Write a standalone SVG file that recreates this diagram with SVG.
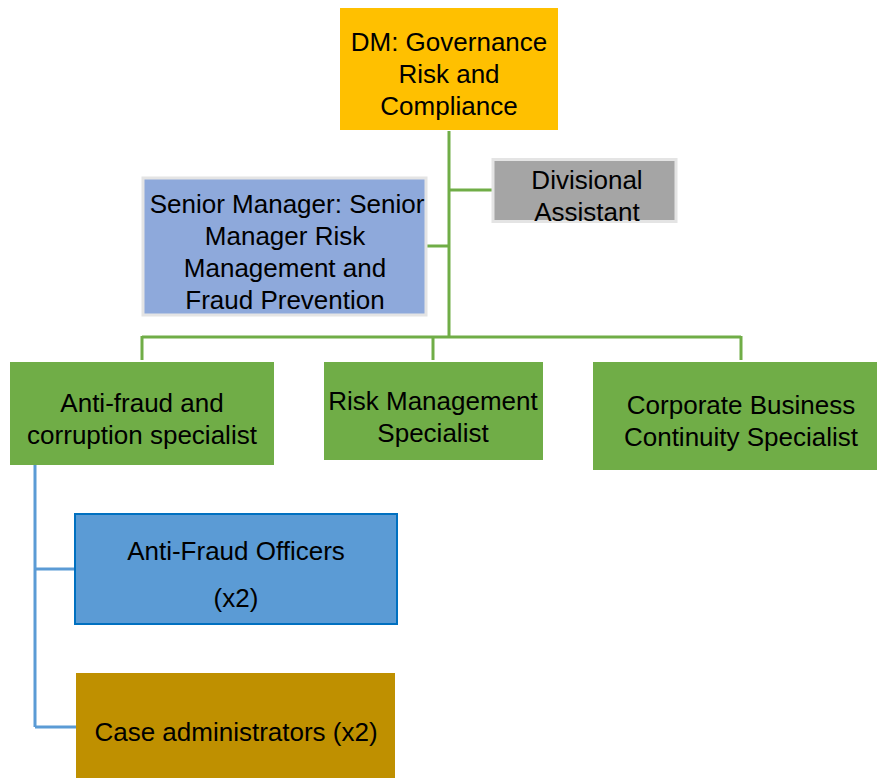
<svg xmlns="http://www.w3.org/2000/svg" width="877" height="778" viewBox="0 0 877 778">
<style>
text{font-family:"Liberation Sans",Arial,sans-serif;font-size:26px;fill:#000;text-anchor:middle}
.g{stroke:#70AD47;stroke-width:3;fill:none}
.b{stroke:#5B9BD5;stroke-width:3;fill:none}
</style>
<rect width="877" height="778" fill="#fff"/>
<g id="connectors">
<path class="g" d="M449 131V337M449 190H492M427 246H449M142 337H741M142 336V360M433 337V360M741 336V360"/>
<path class="b" d="M35 465V727M35 569H74M35 727H76"/>
</g>
<g id="dm">
<rect x="340" y="8" width="218" height="122" fill="#FFC000"/>
<text x="449" y="51">DM: Governance</text>
<text x="449" y="83">Risk and</text>
<text x="449" y="115">Compliance</text>
</g>
<g id="divisional-assistant">
<rect x="493" y="159.5" width="183" height="62" fill="#A5A5A5" stroke="#E4E4E4" stroke-width="3"/>
<text x="587" y="189">Divisional</text>
<text x="587" y="221">Assistant</text>
</g>
<g id="senior-manager">
<rect x="143" y="178" width="283" height="137" fill="#8EA9DB" stroke="#E4E4E4" stroke-width="3"/>
<text x="287" y="213">Senior Manager: Senior</text>
<text x="285" y="245">Manager Risk</text>
<text x="285" y="277">Management and</text>
<text x="285" y="309">Fraud Prevention</text>
</g>
<g id="anti-fraud-specialist">
<rect x="10" y="362" width="264" height="103" fill="#70AD47"/>
<text x="142" y="412">Anti-fraud and</text>
<text x="142" y="444">corruption specialist</text>
</g>
<g id="risk-management-specialist">
<rect x="324" y="362" width="219" height="98" fill="#70AD47"/>
<text x="433" y="410">Risk Management</text>
<text x="433" y="442">Specialist</text>
</g>
<g id="corporate-continuity-specialist">
<rect x="593" y="362" width="284" height="108" fill="#70AD47"/>
<text x="741" y="414">Corporate Business</text>
<text x="741" y="446">Continuity Specialist</text>
</g>
<g id="anti-fraud-officers">
<rect x="75" y="514" width="322" height="110" fill="#5B9BD5" stroke="#0070C0" stroke-width="2"/>
<text x="236" y="560">Anti-Fraud Officers</text>
<text x="236" y="607">(x2)</text>
</g>
<g id="case-administrators">
<rect x="76" y="673" width="319" height="105" fill="#BF9000"/>
<text x="236" y="741">Case administrators (x2)</text>
</g>
</svg>
